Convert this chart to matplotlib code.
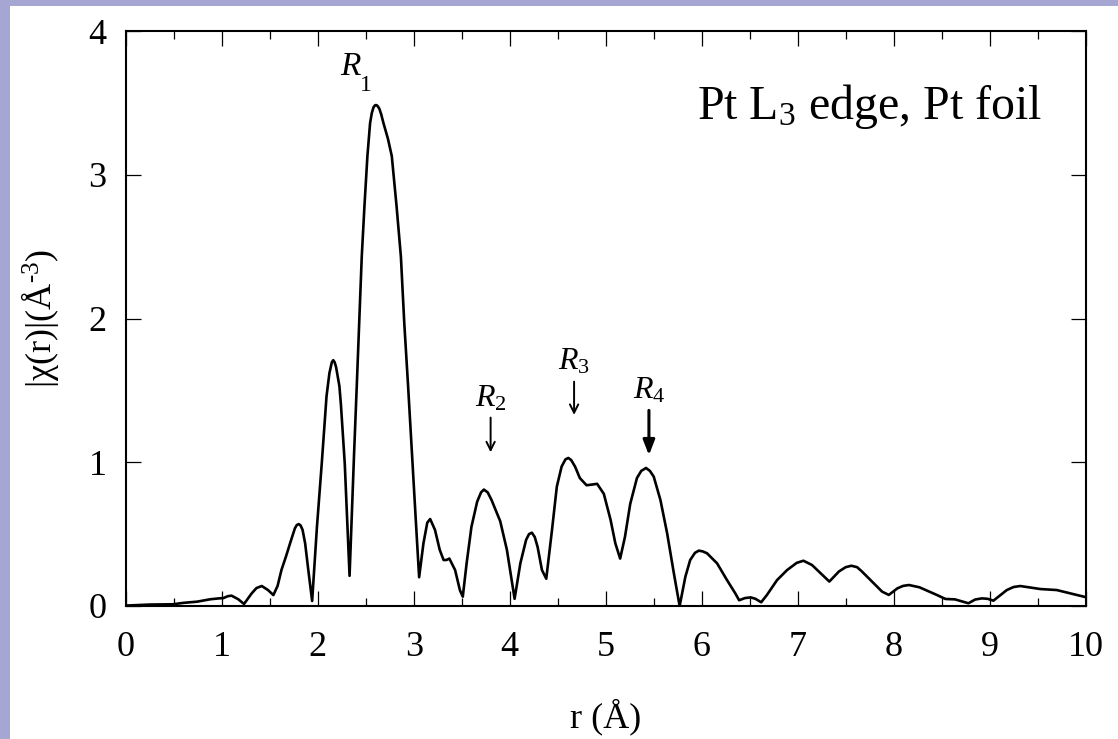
import matplotlib
matplotlib.use("Agg")
import matplotlib.pyplot as plt
from matplotlib.patches import Rectangle
from matplotlib.ticker import MultipleLocator

# Data (r in Angstrom, |chi(r)|)
r_vals = [0.00, 0.25, 0.49, 0.60, 0.74, 0.88, 0.97, 1.015, 1.06, 1.10, 1.17, 1.23, 1.31, 1.36, 1.415,
          1.48, 1.536, 1.58, 1.62, 1.67, 1.71, 1.76, 1.78, 1.80, 1.82, 1.84, 1.867, 1.90, 1.94, 1.99,
          2.04, 2.09, 2.12, 2.145, 2.16, 2.175, 2.19, 2.224, 2.24, 2.28, 2.31, 2.33, 2.377, 2.405, 2.43,
          2.457, 2.485, 2.516, 2.544, 2.562, 2.58, 2.595, 2.607, 2.62, 2.64, 2.66, 2.683, 2.73, 2.77, 2.82,
          2.865, 2.90, 2.94, 2.98, 3.02, 3.055, 3.10, 3.14, 3.17, 3.22, 3.27, 3.31, 3.34, 3.37, 3.43,
          3.48, 3.51, 3.55, 3.60, 3.66, 3.70, 3.73, 3.77, 3.81, 3.90, 3.97, 4.02, 4.05, 4.11, 4.17,
          4.20, 4.23, 4.26, 4.29, 4.335, 4.38, 4.44, 4.49, 4.54, 4.58, 4.61, 4.64, 4.68, 4.73, 4.80,
          4.86, 4.91, 4.98, 5.05, 5.10, 5.15, 5.20, 5.255, 5.325, 5.37, 5.42, 5.46, 5.50, 5.57, 5.64,
          5.71, 5.77, 5.83, 5.88, 5.93, 5.97, 6.01, 6.055, 6.16, 6.264, 6.35, 6.39, 6.45, 6.51, 6.56,
          6.62, 6.68, 6.785, 6.89, 6.99, 7.06, 7.15, 7.24, 7.33, 7.43, 7.50, 7.56, 7.62, 7.67, 7.79,
          7.88, 7.95, 8.04, 8.10, 8.16, 8.27, 8.45, 8.54, 8.64, 8.78, 8.85, 8.92, 8.98, 9.04, 9.18,
          9.25, 9.32, 9.53, 9.70, 9.84, 10.00]
chi_vals = [0.003, 0.010, 0.012, 0.022, 0.030, 0.047, 0.053, 0.055, 0.068, 0.072, 0.047, 0.014, 0.088, 0.125, 0.139,
            0.111, 0.076, 0.140, 0.250, 0.350, 0.436, 0.540, 0.563, 0.570, 0.560, 0.530, 0.436, 0.250, 0.035, 0.550,
            0.990, 1.460, 1.620, 1.695, 1.710, 1.695, 1.660, 1.530, 1.400, 0.990, 0.530, 0.210, 1.060, 1.530, 1.970,
            2.430, 2.780, 3.130, 3.360, 3.430, 3.470, 3.483, 3.485, 3.480, 3.460, 3.420, 3.360, 3.250, 3.130, 2.780,
            2.430, 1.970, 1.530, 1.060, 0.600, 0.200, 0.436, 0.580, 0.605, 0.530, 0.390, 0.320, 0.320, 0.330, 0.250,
            0.110, 0.065, 0.297, 0.550, 0.726, 0.790, 0.810, 0.790, 0.737, 0.590, 0.390, 0.180, 0.050, 0.297, 0.460,
            0.500, 0.510, 0.480, 0.410, 0.250, 0.190, 0.530, 0.830, 0.970, 1.020, 1.030, 1.015, 0.970, 0.890, 0.840,
            0.845, 0.850, 0.780, 0.600, 0.436, 0.330, 0.480, 0.710, 0.890, 0.940, 0.960, 0.940, 0.900, 0.737, 0.505,
            0.227, 0.000, 0.204, 0.320, 0.370, 0.385, 0.380, 0.367, 0.297, 0.180, 0.088, 0.040, 0.055, 0.060, 0.050,
            0.026, 0.077, 0.180, 0.250, 0.300, 0.315, 0.285, 0.227, 0.170, 0.240, 0.270, 0.280, 0.270, 0.240, 0.160,
            0.100, 0.077, 0.123, 0.140, 0.146, 0.130, 0.077, 0.049, 0.046, 0.019, 0.045, 0.053, 0.050, 0.037, 0.111,
            0.132, 0.139, 0.118, 0.111, 0.088, 0.062]

x_ticks = [0, 1, 2, 3, 4, 5, 6, 7, 8, 9, 10]
y_ticks = [0, 1, 2, 3, 4]

# Peak markers: label, r position, label y, arrow start y, arrow end y
peak_labels = ["$R_2$", "$R_3$", "$R_4$"]
peak_r = [3.80, 4.67, 5.45]
peak_label_y = [1.44, 1.70, 1.50]
arrow_start = [1.33, 1.58, 1.38]
arrow_end = [1.05, 1.31, 1.03]

plt.rcParams['font.family'] = ['Liberation Serif', 'DejaVu Serif']
plt.rcParams['mathtext.fontset'] = 'custom'
plt.rcParams['mathtext.rm'] = 'Liberation Serif'
plt.rcParams['mathtext.it'] = 'Liberation Serif:italic'

fig = plt.figure(figsize=(11.18, 7.39), dpi=100)
fig.patch.set_facecolor('#a6a6d2')
bg = fig.add_axes([10/1118, 0, 1 - 10/1118, (739-6)/739], zorder=-5)
bg.set_facecolor('white')
bg.set_axis_off()
bg.add_patch(Rectangle((0, 0), 1, 1, transform=bg.transAxes, facecolor='white', edgecolor='none'))

ax = fig.add_axes([126/1118, 1-606/739, (1085.5-126)/1118, (606-31)/739], zorder=1)
ax.set_facecolor('white')
ax.plot(r_vals, chi_vals, color='black', lw=1.9, solid_joinstyle='round')
ax.set_xlim(0, 10)
ax.set_ylim(0, 4)
ax.set_xticks(x_ticks)
ax.set_yticks(y_ticks)
ax.xaxis.set_minor_locator(MultipleLocator(0.5))
for s in ax.spines.values():
    s.set_linewidth(1.5)
ax.tick_params(which='major', direction='in', length=10.5, width=0.9, top=True, right=True,
               labelsize=26)
ax.tick_params(axis='x', which='major', pad=18)
ax.tick_params(axis='y', which='major', pad=14)
ax.tick_params(which='minor', direction='in', length=5.5, width=0.9, top=True, right=True)

ax.set_xlabel('r (Å)', fontsize=26, labelpad=25)
ax.set_ylabel('|χ(r)|(Å$^{\\mathregular{\u20103}}$)', fontsize=26, labelpad=20)

ax.text(0.955, 0.868, r'Pt L$_{\mathregular{3}}$ edge, Pt foil', transform=ax.transAxes,
        ha='right', va='center', fontsize=34.5)

ax.text(2.35, 3.75, '$R$', fontsize=24, ha='center', va='center')
ax.text(2.5, 3.62, '1', fontsize=17, ha='center', va='center')

for lab, xr, ly, a0, a1, i in zip(peak_labels, peak_r, peak_label_y, arrow_start, arrow_end, range(3)):
    ax.text(xr, ly, lab, fontsize=23, ha='center', va='center')
    if i == 2:
        ax.annotate('', xy=(xr, a1), xytext=(xr, a0),
                    arrowprops=dict(arrowstyle='-|>,head_length=0.9,head_width=0.35', color='black', lw=2.2))
    else:
        ax.annotate('', xy=(xr, a1), xytext=(xr, a0),
                    arrowprops=dict(arrowstyle='->,head_length=0.6,head_width=0.3', color='black', lw=1.4))

fig.savefig('out.png', dpi=100, facecolor=fig.get_facecolor())
